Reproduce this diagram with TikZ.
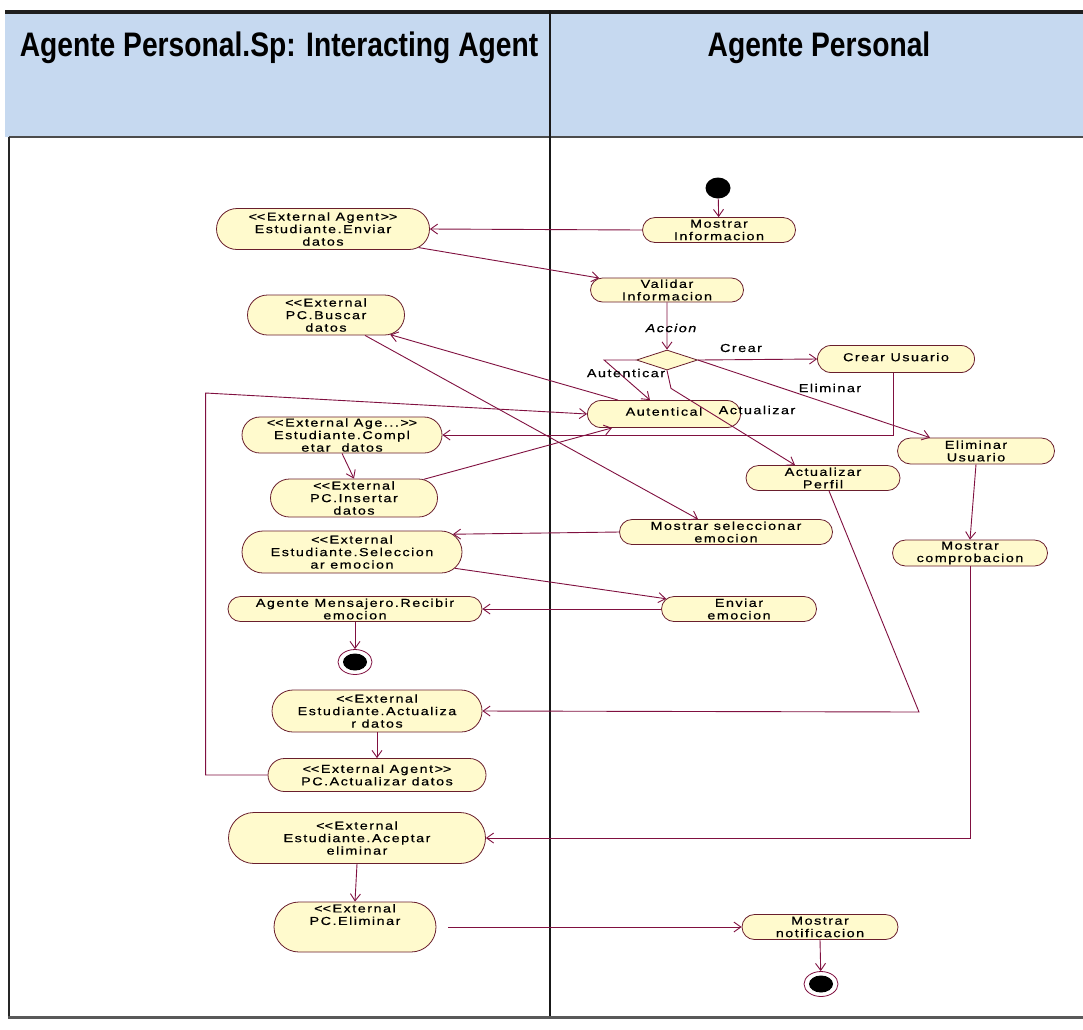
\documentclass[tikz,border=0pt]{standalone}
\usepackage{fontspec}
\usepackage{graphicx}
\setmainfont{Liberation Sans}
\newfontfamily\actfont[FakeStretch=1.25,LetterSpace=13,FakeBold=0.6]{Liberation Sans}
\usetikzlibrary{shapes.misc,shapes.geometric,arrows.meta,calc}

\definecolor{flow}{RGB}{128,16,64}
\definecolor{actfill}{RGB}{255,250,205}
\definecolor{actline}{RGB}{105,30,45}
\definecolor{headblue}{RGB}{198,217,240}

\begin{document}
\begin{tikzpicture}[x=1pt,y=-1pt,
  act/.style={rounded rectangle, draw=actline, fill=actfill, line width=0.8pt,
    inner sep=0pt, align=center, font=\actfont\fontsize{11.5}{12.5}\selectfont},
  flowline/.style={draw=flow, line width=0.9pt,
    -{Straight Barb[length=7pt,width=10pt,line width=0.9pt]}},
  guard/.style={font=\actfont\fontsize{11.5}{12.5}\selectfont, inner sep=0pt},
  hdr/.style={anchor=base, inner sep=0pt},
  startnode/.style={ellipse, fill=black, minimum width=25pt, minimum height=21pt, inner sep=0pt},
  finalnode/.style={ellipse, draw=flow, fill=white, line width=0.8pt,
    minimum width=34pt, minimum height=25pt, inner sep=0pt,
    path picture={\fill[black] (path picture bounding box.center) ellipse (12pt and 8.5pt);}},
  choice/.style={diamond, draw=actline, fill=actfill, line width=0.8pt,
    minimum width=61pt, minimum height=20pt, inner sep=0pt}
]
\useasboundingbox (0,0) rectangle (1083,1029);
\fill[white] (0,0) rectangle (1083,1029);

% swimlane frame
\fill[headblue] (5,12) rectangle (1083,137);
\draw[line width=4pt, black!88] (5,12) -- (1083,12);
\draw[line width=2pt, black!70] (9,137) -- (1083,137);
\draw[line width=1.3pt, black!90] (550,10) -- (550,1017);
\draw[line width=1.2pt, black!85] (9,137) -- (9,1017);
\draw[line width=3pt, black!65] (8,1017) -- (1083,1017);

\node[hdr] (laneA) at (279,56) {\scalebox{0.83}[1]{\fontsize{34}{40}\selectfont\bfseries Agente Personal.Sp: Interacting Agent}};
\node[hdr] (laneB) at (819,56) {\scalebox{0.83}[1]{\fontsize{34}{40}\selectfont\bfseries Agente Personal}};

% activities
\node[startnode] (start) at (718,188) {};
\node[act, minimum width=153pt, minimum height=25pt] (mostrarinfo) at (719,230) {Mostrar\\Informacion};
\node[act, minimum width=213pt, minimum height=41pt] (enviardatos) at (323,229) {<\kern0pt<External Agent>\kern0pt>\\Estudiante.Enviar\\datos};
\node[act, minimum width=153pt, minimum height=24pt] (validar) at (667,290) {Validar\\Informacion};
\node[act, minimum width=157pt, minimum height=40pt] (buscar) at (326,315) {<\kern0pt<External\\PC.Buscar\\datos};
\node[choice] (decision) at (667,360) {};
\node[act, minimum width=157pt, minimum height=27pt] (crear) at (896,359) {\raisebox{4pt}{Crear Usuario}};
\node[act, minimum width=153pt, minimum height=27pt] (autentical) at (664,414) {\raisebox{5pt}{Autentical}};
\node[act, minimum width=200pt, minimum height=36pt] (complet) at (342,435) {<\kern0pt<External Age...>\kern0pt>\\Estudiante.Compl\\etar\ \ datos};
\node[act, minimum width=157pt, minimum height=26pt] (eliminar) at (976,451) {Eliminar\\Usuario};
\node[act, minimum width=167pt, minimum height=38pt] (insert) at (354,498) {<\kern0pt<External\\PC.Insertar\\datos};
\node[act, minimum width=154pt, minimum height=25pt] (actperfil) at (823,478) {Actualizar\\Perfil};
\node[act, minimum width=213pt, minimum height=25pt] (msel) at (726,532) {Mostrar seleccionar\\emocion};
\node[act, minimum width=155pt, minimum height=26pt] (comprob) at (970,553) {Mostrar\\comprobacion};
\node[act, minimum width=220pt, minimum height=42pt] (selecc) at (352,552) {<\kern0pt<External\\Estudiante.Seleccion\\ar emocion};
\node[act, minimum width=155pt, minimum height=25pt] (envemo) at (739,609) {Enviar\\emocion};
\node[act, minimum width=254pt, minimum height=25pt] (mensaj) at (355,609) {Agente Mensajero.Recibir\\emocion};
\node[finalnode] (final1) at (355,662) {};
\node[act, minimum width=210pt, minimum height=42pt] (actdatos) at (377,711) {<\kern0pt<External\\Estudiante.Actualiza\\r datos};
\node[act, minimum width=218pt, minimum height=33pt] (pcact) at (377,775) {<\kern0pt<External Agent>\kern0pt>\\PC.Actualizar datos};
\node[act, minimum width=257pt, minimum height=51pt] (aceptar) at (357,838) {<\kern0pt<External\\Estudiante.Aceptar\\eliminar};
\node[act, minimum width=162pt, minimum height=50pt] (pcelim) at (355,927) {<\kern0pt<External\\PC.Eliminar\\\mbox{}\\\mbox{}};
\node[act, minimum width=156pt, minimum height=25pt] (mostnot) at (820,927) {Mostrar\\notificacion};
\node[finalnode] (final2) at (821,984) {};

% bend points
\coordinate (perfilbend) at (919,712);

% transitions
\draw[flowline] (start) -- (mostrarinfo);
\draw[flowline] (mostrarinfo.west) -- (enviardatos.east);
\draw[flowline] (enviardatos.-11) -- (validar.170);
\draw[flowline] (validar) -- (decision);
\draw[flowline] (decision.east) -- (crear.west);
\draw[flowline] (decision.west) -- ++(-32,0) -- ($(autentical.north)+(-14,0)$);
\draw[flowline] (decision.south) -- ++(4,18) -- ($(actperfil.north)+(-28,0)$);
\draw[flowline] (decision.east) -- ($(eliminar.north)+(-46,0)$);
\draw[flowline] (eliminar.south) -- (comprob.north);
\draw[flowline] ($(crear.south)+(-3,0)$) |- (complet.east);
\draw[flowline] ($(autentical.north)+(-46,0)$) -- (buscar.-17);
\draw[flowline] ($(buscar.south)+(39,0)$) -- ($(msel.north)+(-28,0)$);
\draw[flowline] (pcact.west) -- ++(-62,0) -- ++(0,-382) -- (autentical.west);
\draw[flowline] (complet.south) -- (insert.north);
\draw[flowline] (insert.15) -- ($(autentical.south)+(-52,0)$);
\draw[flowline] (msel.west) -- (selecc.10);
\draw[flowline] (selecc.-9) -- (envemo.172);
\draw[flowline] (envemo.west) -- (mensaj.east);
\draw[flowline] (mensaj.south) -- (final1);
\draw[flowline] ($(actperfil.south)+(6,0)$) -- (perfilbend) -- (actdatos.east);
\draw[flowline] (actdatos.south) -- (pcact.north);
\draw[flowline] (comprob.south) |- (aceptar.east);
\draw[flowline] (aceptar.south) -- (pcelim.north);
\draw[flowline] ($(pcelim.east)+(12,0)$) -- (mostnot.west);
\draw[flowline] (mostnot.south) -- (final2);

% guard labels
\node[guard, font=\actfont\itshape\fontsize{11.5}{12.5}\selectfont] (gaccion) at (671,328) {Accion};
\node[guard] (gcrear) at (741,348) {Crear};
\node[guard] (gauth) at (626,373) {Autenticar};
\node[guard] (gelim) at (830,388) {Eliminar};
\node[guard] (gact) at (757,410) {Actualizar};
\end{tikzpicture}
\end{document}
